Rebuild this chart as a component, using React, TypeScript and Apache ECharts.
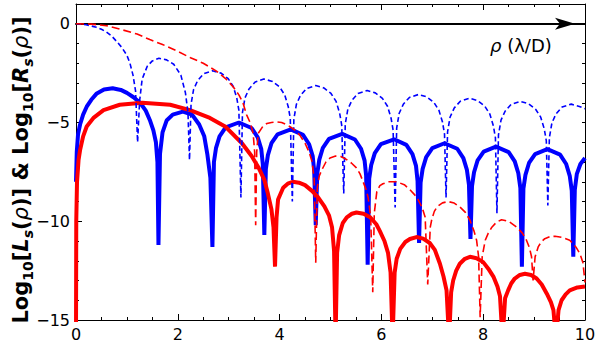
import { useEffect, useRef } from 'react';
import * as echarts from 'echarts';

const X_MIN = 0;
const X_MAX = 10;
const Y_MIN = -15;
const Y_MAX = 1;

// thin dashed blue curve
const blueDashed: [number, number][] = [
  [0, 0], [0.2, -0.05], [0.4, -0.18], [0.5, -0.28], [0.6, -0.42], [0.7, -0.62], [0.8, -0.9], [0.9, -1.2], [1.0, -1.6], [1.06, -2.0], [1.12, -2.6], [1.17, -3.4], [1.21, -6.0],
  [1.25, -3.9], [1.3, -2.8], [1.4, -2.15], [1.5, -1.88], [1.63, -1.75], [1.78, -1.83], [1.92, -2.05], [2.06, -2.6], [2.15, -3.5], [2.2, -4.5], [2.23, -6.9],
  [2.26, -4.08], [2.31, -3.33], [2.39, -2.88], [2.51, -2.53], [2.68, -2.38], [2.85, -2.5], [2.99, -2.78], [3.09, -3.18], [3.16, -3.78], [3.2, -4.38], [3.24, -8.8],
  [3.27, -4.5], [3.32, -3.75], [3.4, -3.3], [3.52, -2.95], [3.69, -2.8], [3.86, -2.92], [4.0, -3.2], [4.1, -3.6], [4.17, -4.2], [4.21, -4.8], [4.25, -9.0],
  [4.28, -4.83], [4.33, -4.08], [4.41, -3.63], [4.53, -3.28], [4.71, -3.13], [4.87, -3.25], [5.01, -3.53], [5.11, -3.93], [5.18, -4.53], [5.22, -5.13], [5.26, -8.6],
  [5.29, -5.08], [5.34, -4.33], [5.42, -3.88], [5.54, -3.53], [5.72, -3.38], [5.88, -3.5], [6.02, -3.78], [6.12, -4.18], [6.19, -4.78], [6.23, -5.38], [6.27, -9.3],
  [6.3, -5.28], [6.35, -4.53], [6.43, -4.08], [6.55, -3.73], [6.73, -3.58], [6.89, -3.7], [7.03, -3.98], [7.13, -4.38], [7.2, -4.98], [7.24, -5.58], [7.27, -8.8],
  [7.3, -5.47], [7.35, -4.72], [7.43, -4.27], [7.55, -3.92], [7.73, -3.77], [7.89, -3.89], [8.03, -4.17], [8.13, -4.57], [8.2, -5.17], [8.24, -5.77], [8.27, -9.6],
  [8.3, -5.63], [8.35, -4.88], [8.43, -4.43], [8.55, -4.08], [8.73, -3.93], [8.89, -4.05], [9.03, -4.33], [9.13, -4.73], [9.2, -5.33], [9.24, -5.93], [9.27, -9.2],
  [9.3, -5.77], [9.35, -5.02], [9.43, -4.57], [9.55, -4.22], [9.73, -4.07], [9.89, -4.19], [10, -4.3],
];

// thick solid blue curve
const blueSolid: [number, number][] = [
  [0, -8.0], [0.015, -6.5], [0.04, -5.6], [0.08, -5.1], [0.14, -4.6], [0.21, -4.2], [0.3, -3.85], [0.4, -3.55], [0.55, -3.33], [0.72, -3.27], [0.88, -3.35], [1.0, -3.5], [1.13, -3.72], [1.26, -4.0], [1.37, -4.4], [1.45, -4.87], [1.52, -5.4], [1.57, -6.0], [1.6, -7.0], [1.62, -11.2],
  [1.65, -6.6], [1.7, -5.5], [1.78, -4.9], [1.9, -4.6], [2.1, -4.45], [2.28, -4.6], [2.42, -5.1], [2.52, -5.7], [2.58, -6.6], [2.64, -7.8], [2.68, -11.3],
  [2.71, -7.0], [2.75, -6.3], [2.82, -5.7], [2.94, -5.25], [3.2, -5.0], [3.45, -5.28], [3.57, -5.75], [3.64, -6.35], [3.67, -7.1], [3.7, -10.7],
  [3.73, -7.35], [3.77, -6.65], [3.84, -6.05], [3.96, -5.6], [4.22, -5.35], [4.46, -5.63], [4.58, -6.1], [4.65, -6.7], [4.68, -7.45], [4.71, -10.2],
  [4.74, -7.58], [4.78, -6.88], [4.85, -6.28], [4.97, -5.83], [5.23, -5.58], [5.48, -5.86], [5.6, -6.33], [5.67, -6.93], [5.7, -7.68], [5.73, -12.2],
  [5.76, -7.85], [5.8, -7.15], [5.87, -6.55], [5.99, -6.1], [6.25, -5.85], [6.49, -6.13], [6.61, -6.6], [6.68, -7.2], [6.71, -7.95], [6.74, -11.1],
  [6.77, -8.05], [6.81, -7.35], [6.88, -6.75], [7.0, -6.3], [7.24, -6.05], [7.49, -6.33], [7.61, -6.8], [7.68, -7.4], [7.72, -8.15], [7.75, -10.9],
  [7.78, -8.22], [7.82, -7.52], [7.89, -6.92], [8.01, -6.47], [8.25, -6.22], [8.5, -6.5], [8.62, -6.97], [8.69, -7.57], [8.73, -8.32], [8.76, -12.3],
  [8.79, -8.35], [8.83, -7.65], [8.9, -7.05], [9.02, -6.6], [9.26, -6.35], [9.51, -6.63], [9.63, -7.1], [9.7, -7.7], [9.74, -8.45], [9.77, -11.8],
  [9.8, -8.4], [9.84, -7.6], [9.91, -7.1], [10, -6.8],
];

// thick solid red curve
const redSolid: [number, number][] = [
  [0, -16], [0.005, -10], [0.02, -8], [0.05, -6.9], [0.08, -6.4], [0.14, -5.7], [0.21, -5.2], [0.35, -4.75], [0.54, -4.37], [0.86, -4.1], [1.3, -4.0], [1.85, -4.1], [2.24, -4.37], [2.63, -4.77], [2.93, -5.2], [3.26, -6.05], [3.45, -6.7], [3.58, -7.25], [3.7, -7.9], [3.77, -8.6], [3.84, -9.4], [3.88, -10.3], [3.91, -12.3],
  [3.94, -9.8], [3.97, -8.9], [4.07, -8.3], [4.16, -8.1], [4.26, -8.0], [4.38, -8.05], [4.5, -8.17], [4.63, -8.45], [4.75, -8.77], [4.88, -9.25], [4.97, -9.7], [5.03, -10.3], [5.07, -11.5], [5.1, -16],
  [5.13, -11.6], [5.17, -10.7], [5.24, -10.1], [5.32, -9.8], [5.42, -9.62], [5.51, -9.56], [5.65, -9.62], [5.78, -9.8], [5.9, -10.15], [5.97, -10.5], [6.06, -11.0], [6.13, -11.6], [6.18, -12.6], [6.22, -16],
  [6.26, -12.6], [6.3, -11.9], [6.37, -11.4], [6.47, -11.05], [6.56, -10.9], [6.69, -10.8], [6.82, -10.88], [6.95, -11.1], [7.05, -11.45], [7.15, -12.15], [7.22, -12.8], [7.28, -13.5], [7.33, -16],
  [7.37, -13.6], [7.41, -13.0], [7.47, -12.5], [7.54, -12.15], [7.64, -11.9], [7.74, -11.8], [7.87, -11.87], [8.0, -12.07], [8.1, -12.4], [8.2, -12.8], [8.28, -13.3], [8.33, -13.8], [8.38, -16],
  [8.43, -13.9], [8.49, -13.5], [8.55, -13.15], [8.62, -12.9], [8.72, -12.72], [8.82, -12.66], [8.94, -12.72], [9.05, -12.9], [9.15, -13.2], [9.25, -13.67], [9.33, -14.1], [9.38, -14.5], [9.43, -16],
  [9.48, -14.5], [9.54, -14.0], [9.62, -13.7], [9.7, -13.5], [9.85, -13.35], [10, -13.3],
];

// thin dashed red curve
const redDashed: [number, number][] = [
  [0, 0], [0.3, -0.02], [0.6, -0.1], [0.9, -0.3], [1.2, -0.52], [1.45, -0.8], [1.7, -1.05], [2.0, -1.4], [2.25, -1.72], [2.5, -2.0], [2.76, -2.4], [2.95, -2.8], [3.09, -3.2], [3.2, -3.6], [3.28, -4.0], [3.35, -4.6], [3.42, -5.0], [3.48, -5.55], [3.51, -6.5], [3.53, -10.2],
  [3.55, -6.5], [3.58, -5.55], [3.67, -5.2], [3.75, -5.05], [3.84, -5.0], [3.94, -4.97], [4.04, -5.0], [4.17, -5.15], [4.3, -5.38], [4.4, -5.65], [4.5, -6.05], [4.58, -6.5], [4.64, -7.0], [4.68, -7.9], [4.71, -12.1],
  [4.74, -8.3], [4.78, -7.7], [4.83, -7.4], [4.91, -7.0], [4.99, -6.8], [5.1, -6.7], [5.2, -6.72], [5.3, -6.85], [5.41, -7.05], [5.51, -7.3], [5.58, -7.6], [5.64, -8.0], [5.7, -8.4], [5.74, -8.8], [5.79, -9.8], [5.83, -13.6],
  [5.86, -9.6], [5.91, -8.5], [5.97, -8.2], [6.03, -8.1], [6.15, -8.0], [6.3, -8.0], [6.45, -8.15], [6.56, -8.4], [6.65, -8.65], [6.72, -8.9], [6.8, -9.3], [6.86, -9.8], [6.91, -13.2],
  [6.96, -10.3], [6.99, -9.9], [7.04, -9.5], [7.1, -9.25], [7.2, -9.07], [7.31, -9.0], [7.43, -9.08], [7.54, -9.27], [7.65, -9.55], [7.74, -9.95], [7.82, -10.5], [7.87, -10.96], [7.91, -11.8], [7.94, -14.86],
  [7.98, -11.8], [8.04, -10.96], [8.1, -10.6], [8.17, -10.3], [8.26, -10.05], [8.36, -9.92], [8.5, -10.0], [8.66, -10.3], [8.77, -10.6], [8.85, -10.96], [8.91, -11.35], [8.95, -11.8], [8.98, -13.0],
  [9.02, -11.8], [9.08, -11.3], [9.14, -11.05], [9.21, -10.88], [9.31, -10.78], [9.41, -10.76], [9.55, -10.82], [9.7, -10.96], [9.82, -11.3], [9.9, -11.64], [9.96, -12.1], [10, -13.1],
];

const FONT = 'DejaVu Sans';
const BLACK = '#000';

const minusFmt = (v: number) => (v < 0 ? '\u2212' + Math.abs(v) : String(v));

export default function App() {
  const ref = useRef<HTMLDivElement>(null);
  useEffect(() => {
    const chart = echarts.init(ref.current!, null, { renderer: 'svg' });
    const frameLine = { show: true, onZero: false, lineStyle: { color: BLACK, width: 1 } };
    chart.setOption({
      animation: false,
      backgroundColor: '#fff',
      grid: { left: 76, right: 15, top: 4, bottom: 23, containLabel: false },
      xAxis: [
        {
          type: 'value', min: X_MIN, max: X_MAX, interval: 2, position: 'bottom',
          axisLine: frameLine,
          axisTick: { show: true, inside: true, length: 6, lineStyle: { color: BLACK } },
          minorTick: { show: true, splitNumber: 4, length: 3, lineStyle: { color: BLACK } },
          axisLabel: { color: BLACK, fontSize: 16, fontFamily: FONT, margin: 6 },
          splitLine: { show: false },
        },
        {
          type: 'value', min: X_MIN, max: X_MAX, interval: 2, position: 'top',
          axisLine: frameLine,
          axisTick: { show: true, inside: true, length: 6, lineStyle: { color: BLACK } },
          minorTick: { show: true, splitNumber: 4, length: 3, lineStyle: { color: BLACK } },
          axisLabel: { show: false },
          splitLine: { show: false },
        },
        {
          type: 'value', min: X_MIN, max: X_MAX, position: 'bottom',
          axisLine: {
            show: true, onZero: true, symbol: ['none', 'arrow'], symbolSize: [9, 20], symbolOffset: [0, -10],
            lineStyle: { color: BLACK, width: 2 },
          },
          axisTick: { show: false },
          axisLabel: { show: false },
          splitLine: { show: false },
        },
      ],
      yAxis: [
        {
          type: 'value', min: Y_MIN, max: Y_MAX, interval: 5, position: 'left',
          axisLine: frameLine,
          axisTick: { show: true, inside: true, length: 6, lineStyle: { color: BLACK } },
          axisLabel: { color: BLACK, fontSize: 16, fontFamily: FONT, margin: 6, showMaxLabel: false, formatter: minusFmt },
          splitLine: { show: false },
        },
        {
          type: 'value', min: Y_MIN, max: Y_MAX, interval: 1, position: 'left',
          axisLine: { show: false, onZero: false },
          axisTick: { show: true, inside: true, length: 3, lineStyle: { color: BLACK } },
          axisLabel: { show: false },
          splitLine: { show: false },
        },
        {
          type: 'value', min: Y_MIN, max: Y_MAX, interval: 1, position: 'right',
          axisLine: frameLine,
          axisTick: { show: true, inside: true, length: 3, lineStyle: { color: BLACK } },
          axisLabel: { show: false },
          splitLine: { show: false },
        },
      ],
      series: [
        { type: 'line', data: blueSolid, showSymbol: false, symbol: 'none', lineStyle: { color: '#0000ff', width: 4, join: 'bevel' }, z: 2 },
        { type: 'line', data: redSolid, showSymbol: false, symbol: 'none', lineStyle: { color: '#ff0000', width: 4, join: 'bevel' }, z: 3 },
        { type: 'line', data: blueDashed, showSymbol: false, symbol: 'none', lineStyle: { color: '#0000ff', width: 1.6, type: [5, 3] }, z: 4 },
        { type: 'line', data: redDashed, showSymbol: false, symbol: 'none', lineStyle: { color: '#ff0000', width: 1.6, type: [8, 4] }, z: 5 },
      ],
      graphic: [
        {
          type: 'text', x: 490, y: 36,
          style: {
            text: '{i|ρ}{n| (λ/D)}',
            rich: {
              i: { fontFamily: FONT, fontSize: 18, fontStyle: 'italic', fill: BLACK },
              n: { fontFamily: FONT, fontSize: 18, fill: BLACK },
            },
          },
        },
        {
          type: 'text', x: 21, y: 170, rotation: Math.PI / 2,
          style: {
            text: '{b|Log}{sub|10}{b|[}{bi|L}{subi|s}{b|(}{rho|ρ}{b|)] & Log}{sub|10}{b|[}{bi|R}{subi|s}{b|(}{rho|ρ}{b|)]}',
            align: 'center', verticalAlign: 'middle',
            rich: {
              b: { fontFamily: FONT, fontSize: 21, fontWeight: 'bold', fill: BLACK, lineHeight: 28 },
              bi: { fontFamily: FONT, fontSize: 21, fontWeight: 'bold', fontStyle: 'italic', fill: BLACK, lineHeight: 28 },
              rho: { fontFamily: FONT, fontSize: 21, fontStyle: 'italic', fill: BLACK, lineHeight: 28 },
              sub: { fontFamily: FONT, fontSize: 14, fontWeight: 'bold', fill: BLACK, verticalAlign: 'bottom', lineHeight: 14 },
              subi: { fontFamily: FONT, fontSize: 14, fontWeight: 'bold', fontStyle: 'italic', fill: BLACK, verticalAlign: 'bottom', lineHeight: 14 },
            },
          },
        },
      ],
    });
    return () => chart.dispose();
  }, []);
  return <div ref={ref} style={{ position: 'absolute', left: 0, top: 0, width: 600, height: 343 }} />;
}
